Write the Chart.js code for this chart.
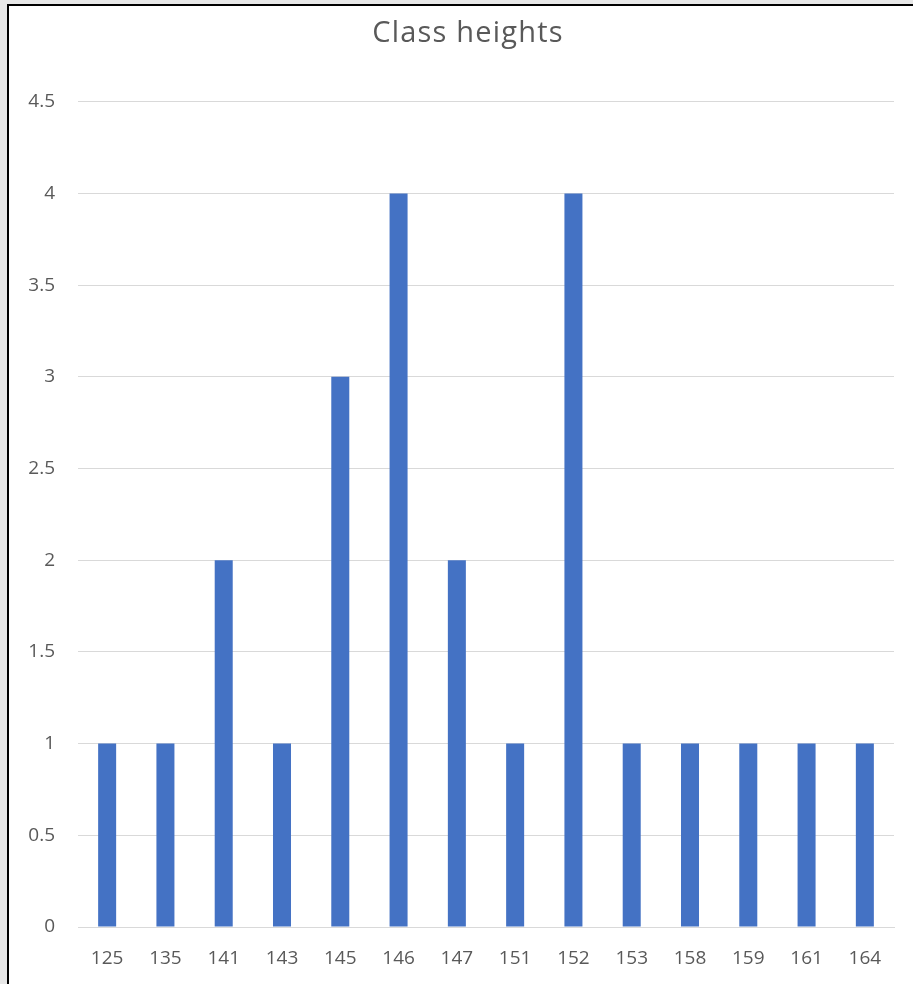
<!DOCTYPE html>
<html>
<head>
<meta charset="utf-8">
<title>Class heights</title>
<script src="https://cdn.jsdelivr.net/npm/chart.js@4"></script>
<style>
  html, body { margin: 0; padding: 0; width: 913px; height: 984px; overflow: hidden; background: #e7e7e7; }
  #frame {
    position: absolute; left: 7px; top: 4px;
    width: 918px; height: 990px;
    border-left: 2px solid #000; border-top: 2px solid #000;
    background: #fff;
  }
  #chart { display: block; }
</style>
</head>
<body>
<div id="frame"><canvas id="chart" width="918" height="978"></canvas></div>
<script>
// Heights (cm) and how many pupils have each height
const heights = ['125', '135', '141', '143', '145', '146', '147', '151', '152', '153', '158', '159', '161', '164'];
const counts = [1, 1, 2, 1, 3, 4, 2, 1, 4, 1, 1, 1, 1, 1];
const yTicks = [0, 0.5, 1, 1.5, 2, 2.5, 3, 3.5, 4, 4.5];

const textGrey = '#595959';
const gridGrey = '#d9d9d9';
const barBlue = '#4472c4';

// Give the chart title a little extra letter spacing
const titleTracking = {
  id: 'titleTracking',
  beforeDraw(chart) {
    const t = chart.titleBlock;
    if (!t || t._tracked) return;
    const draw = t.draw.bind(t);
    t.draw = function (area) {
      const ctx = this.ctx;
      ctx.save();
      ctx.letterSpacing = '1.2px';
      draw(area);
      ctx.restore();
    };
    t._tracked = true;
  }
};

new Chart(document.getElementById('chart'), {
  type: 'bar',
  data: {
    labels: heights,
    datasets: [{
      label: 'Count',
      data: counts,
      backgroundColor: barBlue,
      borderWidth: 0,
      categoryPercentage: 1,
      barPercentage: 0.309
    }]
  },
  plugins: [titleTracking],
  options: {
    responsive: false,
    animation: false,
    events: [],
    layout: { padding: 0 },
    plugins: {
      legend: { display: false },
      tooltip: { enabled: false },
      title: {
        display: true,
        text: 'Class heights',
        color: textGrey,
        font: { family: 'Open Sans', size: 29, weight: 'normal', lineHeight: 1.2 },
        padding: { top: 10, bottom: 51 }
      }
    },
    scales: {
      x: {
        grid: { display: false, drawTicks: false },
        border: { display: true, color: gridGrey, width: 1 },
        ticks: {
          color: textGrey,
          font: { family: 'Open Sans', size: 19 },
          padding: 20,
          maxRotation: 0,
          autoSkip: false
        },
        afterFit: (scale) => { scale.height = 57; }
      },
      y: {
        min: 0,
        max: 4.5,
        afterBuildTicks: (scale) => { scale.ticks = yTicks.map(v => ({ value: v })); },
        grid: { color: gridGrey, lineWidth: 1, drawTicks: false },
        border: { display: false },
        ticks: {
          color: textGrey,
          font: { family: 'Open Sans', size: 19 },
          padding: 23,
          callback: (value) => String(value)
        },
        afterFit: (scale) => { scale.width = 69; }
      },
      // empty right-hand margin so the title stays centred on the whole chart
      yRight: {
        position: 'right',
        display: true,
        grid: { display: false, drawTicks: false },
        border: { display: false },
        ticks: { display: false },
        afterFit: (scale) => { scale.width = 33; }
      }
    }
  }
});
</script>
</body>
</html>
